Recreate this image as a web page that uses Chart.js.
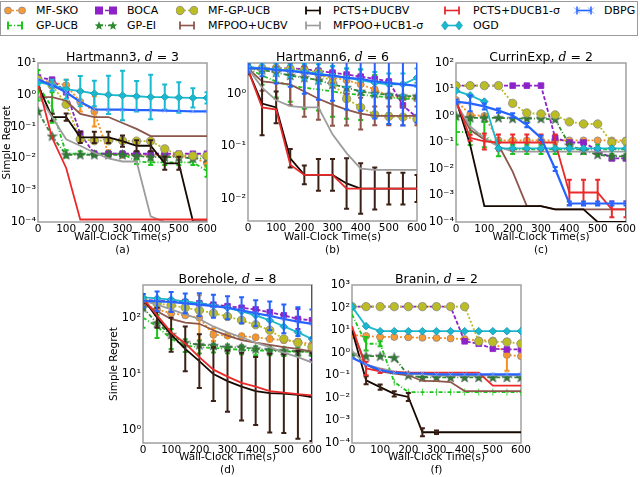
<!DOCTYPE html>
<html>
<head>
<meta charset="utf-8">
<script src="https://cdn.jsdelivr.net/npm/chart.js@4.4.0/dist/chart.umd.min.js"></script>
<style>
  body { margin: 0; width: 640px; height: 477px; background: #fff; position: relative; overflow: hidden; font-family: "DejaVu Sans", sans-serif; }
  canvas { position: absolute; }
  .ttl { position: absolute; font-size: 12.5px; white-space: nowrap; transform: translate(-50%, -50%); color: #000; }
  .ttl i { font-family: "DejaVu Serif", serif; }
  #legend { position: absolute; left: 0; top: 1px; width: 638px; height: 35px; border: 1.5px solid #9a9a9a; box-sizing: border-box; }
  .li { position: absolute; font-size: 11px; line-height: 13px; white-space: nowrap; }
  .li svg { position: absolute; top: 0; }
</style>
</head>
<body>
<div id="legend"></div>
<canvas id="ca"></canvas>
<canvas id="cb"></canvas>
<canvas id="cc"></canvas>
<canvas id="cd"></canvas>
<canvas id="cf"></canvas>
<script>
const TIMES = [0, 50, 100, 150, 200, 250, 300, 350, 400, 450, 500, 550, 600];
const X_TICKS = [0, 100, 200, 300, 400, 500, 600];
const METHODS = ['MF-SKO', 'GP-UCB', 'BOCA', 'GP-EI', 'MF-GP-UCB', 'MFPOO+UCBV', 'PCTS+DUCBV',
  'MFPOO+UCB1-σ', 'PCTS+DUCB1-σ', 'OGD', 'DBPG'];

// Hartmann3, d = 3
const h3MfSko = [3, 2.5, 2, 0.6, 0.3, 0.014, 0.013, 0.013, 0.013, 0.012, 0.012, 0.011, 0.007];
const h3GpUcb = [2, 0.4, 0.014, 0.014, 0.014, 0.014, 0.014, 0.008, 0.0075, 0.0075, 0.0075, 0.0075, 0.004];
const h3Boca = [3.5, 3, 1.2, 0.06, 0.014, 0.014, 0.014, 0.014, 0.014, 0.014, 0.014, 0.014, 0.014];
const h3GpEi = [0.3, 0.05, 0.013, 0.013, 0.013, 0.013, 0.013, 0.012, 0.011, 0.011, 0.011, 0.01, 0.01];
const h3MfGpUcb = [3, 2, 0.5, 0.04, 0.036, 0.036, 0.036, 0.035, 0.035, 0.02, 0.013, 0.012, 0.012];
const h3PooUcbv = [0.85, 0.85, 0.65, 0.25, 0.2, 0.2, 0.13, 0.085, 0.05, 0.05, 0.05, 0.05, 0.05];
const h3PctsUcbv = [2, 0.2, 0.2, 0.046, 0.046, 0.046, 0.035, 0.025, 0.025, 0.007, 0.007, 0.000105, 0.000105];
const h3PooUcb1 = [1, 0.2, 0.04, 0.025, 0.015, 0.01, 0.008, 0.008, 0.00015, 0.0001, 0.0001, 0.0001, 0.0001];
const h3PctsUcb1 = [2.2, 0.045, 0.005, 0.00012, 0.00012, 0.00012, 0.00012, 0.00012, 0.00012, 0.00012, 0.00012, 0.00012, 0.00012];
const h3Ogd = [2.5, 2, 1.5, 1.3, 1.1, 1.0, 0.95, 0.9, 0.85, 0.85, 0.82, 0.8, 0.8];
const h3Dbpg = [3, 2, 1.2, 0.6, 0.35, 0.34, 0.34, 0.33, 0.33, 0.32, 0.31, 0.3, 0.3];
const h3MfSkoErr = [1.2, 1.3, 1.5, 2, 3, 1.3, 1.2, 1.2, 1.2, 1.2, 1.2, 1.2, 1.3];
const h3GpUcbErr = [3, 3, 1.3, 1.2, 1.2, 1.2, 1.2, 1.2, 1.2, 1.2, 1.2, 1.2, 1.5];
const h3PctsUcbvErr = [1.2, 1.3, 1.3, 1.5, 1.5, 1.5, 1.5, 1.5, 1.5, 1.6, 1.6, 1, 1];
const h3OgdErr = [1.2, 1.5, 2, 3, 2.5, 4, 6, 3, 5, 2.5, 3, 2, 1.5];

// Hartmann6, d = 6
const h6MfSko = [3, 2.9, 2.8, 2.7, 2.5, 2.3, 2.0, 1.8, 1.5, 1.2, 0.9, 0.85, 0.8];
const h6GpUcb = [3, 2.2, 1.7, 1.4, 1.3, 1.2, 1.1, 1.0, 0.95, 0.9, 0.85, 0.8, 0.8];
const h6Boca = [3, 3, 3, 3, 2.9, 2.7, 2.5, 2.3, 2.1, 1.9, 1.7, 0.6, 0.35];
const h6GpEi = [3, 2.8, 2.5, 2.2, 2.0, 1.8, 1.5, 1.3, 1.1, 1.0, 0.95, 0.9, 0.9];
const h6MfGpUcb = [3, 3, 3, 2.9, 2.8, 2.5, 1.6, 0.8, 0.55, 0.4, 0.37, 0.36, 0.33];
const h6PooUcbv = [3, 1.7, 1.6, 1.5, 1.1, 0.8, 0.62, 0.5, 0.42, 0.38, 0.38, 0.38, 0.38];
const h6PctsUcbv = [2.8, 0.65, 0.55, 0.06, 0.029, 0.029, 0.029, 0.02, 0.016, 0.016, 0.016, 0.016, 0.016];
const h6PooUcb1 = [3, 1.3, 0.75, 0.58, 0.55, 0.55, 0.17, 0.075, 0.038, 0.036, 0.036, 0.036, 0.036];
const h6PctsUcb1 = [2.8, 0.55, 0.5, 0.045, 0.029, 0.029, 0.029, 0.016, 0.016, 0.016, 0.016, 0.016, 0.016];
const h6Ogd = [3.2, 3, 2.9, 2.7, 2.6, 2.4, 2.2, 2.0, 1.8, 1.6, 1.5, 1.5, 2.0];
const h6Dbpg = [3, 3, 2.8, 2.7, 2.5, 2.3, 2.2, 2.0, 1.9, 1.7, 1.6, 1.5, 1.4];
const h6GpUcbErr = [1.2, 1.5, 2, 2, 2.5, 2.5, 3, 3, 3, 2.5, 2, 2, 2];
const h6PooUcbvErr = [1.2, 1.5, 2, 2.5, 3, 2.5, 2.5, 2, 2, 1.5, 1.5, 1.5, 1.5];
const h6PctsUcbvErr = [1.2, 4, 2, 1.5, 1.5, 2, 2, 3, 3, 2.5, 2, 2, 1.8];
const h6OgdErr = [1.1, 1.2, 1.3, 1.3, 1.4, 1.5, 1.5, 1.5, 1.6, 1.6, 1.6, 1.6, 1.5];
const h6DbpgErr = [1.2, 1.4, 1.8, 2, 2.5, 3, 3, 4, 4, 5, 6, 6, 5];

// CurrinExp, d = 2
const ceMfSko = [4, 1.1, 1.0, 0.12, 0.12, 0.12, 0.12, 0.12, 0.12, 0.12, 0.12, 0.12, 0.12];
const ceGpUcb = [0.25, 0.24, 0.2, 0.06, 0.055, 0.055, 0.055, 0.055, 0.055, 0.055, 0.055, 0.055, 0.055];
const ceBoca = [14, 14, 14, 14, 14, 14, 14, 0.15, 0.1, 0.1, 0.05, 0.025, 0.025];
const ceGpEi = [1, 0.85, 0.85, 0.85, 0.8, 0.8, 0.8, 0.75, 0.08, 0.05, 0.035, 0.03, 0.03];
const ceMfGpUcb = [14, 14, 14, 14, 3, 1.3, 1.2, 1.1, 0.6, 0.5, 0.5, 0.1, 0.11];
const cePooUcbv = [3, 0.3, 0.13, 0.08, 0.008, 0.0004, 0.0004, 0.0003, 0.0003, 0.0003, 0.0003, 0.0003, 0.0003];
const cePctsUcbv = [4, 0.08, 0.0004, 0.0004, 0.0004, 0.0004, 0.0004, 0.0003, 0.0003, 0.0003, 0.0001, 0.0001, 0.0001];
const cePooUcb1 = [3, 0.4, 0.15, 0.07, 0.045, 0.045, 0.045, 0.045, 0.045, 0.045, 0.045, 0.045, 0.045];
const cePctsUcb1 = [4, 0.15, 0.11, 0.1, 0.1, 0.1, 0.1, 0.1, 0.0013, 0.0013, 0.0013, 0.0003, 0.0003];
const ceOgd = [9, 6, 3.5, 0.06, 0.06, 0.06, 0.06, 0.06, 0.06, 0.06, 0.06, 0.06, 0.06];
const ceDbpg = [3.5, 3, 2.3, 1.6, 1.05, 0.45, 0.15, 0.01, 0.0005, 0.0005, 0.0005, 0.0005, 0.0005];
const ceGpUcbErr = [3, 3, 3, 2, 1.5, 1.5, 1.5, 1.5, 1.5, 1.5, 1.5, 1.5, 1.5];
const cePctsUcb1Err = [1, 1.3, 2, 2, 2, 2, 2, 2, 3, 3, 3, 2, 2];
const ceDbpgErr = [1.2, 2, 1.3, 1.2, 1.2, 1.2, 1.2, 1.2, 1.2, 1.2, 1.2, 1.2, 1.2];

// Borehole, d = 8
const bhMfSko = [180, 140, 120, 110, 100, 50, 48, 47, 45, 42, 40, 38, 33];
const bhGpUcb = [100, 70, 42, 32, 30, 29, 28, 27, 26, 26, 25, 25, 25];
const bhBoca = [210, 200, 195, 190, 180, 170, 160, 150, 140, 125, 110, 95, 90];
const bhGpEi = [150, 80, 50, 36, 33, 32, 30, 30, 28, 27, 26, 25, 25];
const bhMfGpUcb = [200, 180, 165, 150, 135, 120, 105, 90, 75, 60, 42, 36, 30];
const bhPooUcbv = [180, 130, 95, 82, 78, 60, 48, 40, 36, 33, 30, 28, 25];
const bhPctsUcbv = [220, 100, 50, 28, 17, 10, 7.5, 6, 5, 4.6, 4.5, 4.3, 3.9];
const bhPooUcb1 = [200, 170, 140, 115, 95, 70, 55, 45, 36, 30, 24, 20, 16];
const bhPctsUcb1 = [220, 110, 55, 35, 20, 12, 9, 7, 6, 5, 4.7, 4.4, 4.2];
const bhOgd = [230, 220, 210, 195, 180, 165, 150, 130, 110, 90, 70, 55, 42];
const bhDbpg = [200, 195, 190, 180, 170, 160, 150, 135, 120, 108, 95, 85, 78];
const bhMfSkoErr = [1, 1, 1, 1, 2.5, 1.3, 1.1, 1.1, 1.1, 1.1, 1.1, 1.1, 1.1];
const bhGpUcbErr = [1.5, 1.6, 1.5, 1.3, 1.3, 1.2, 1.2, 1.2, 1.2, 1.2, 1.2, 1.2, 1.2];
const bhBocaErr = [1, 1, 1, 1, 1, 1, 1, 1, 1, 1, 1, 1.5, 5];
const bhPctsUcbvErr = [1.2, 1.5, 2, 2.5, 3, 3, 3.5, 4, 4, 5, 5, 6, 6];
const bhDbpgErr = [1.3, 1.5, 1.5, 1.5, 1.6, 1.6, 1.6, 1.7, 1.7, 1.8, 1.8, 1.8, 1.8];

// Branin, d = 2
const brMfSko = [6, 5.5, 5, 5, 4.8, 4.6, 4.5, 4.3, 4, 3.5, 3.5, 0.8, 0.7];
const brGpUcb = [50, 2.5, 2.5, 0.05, 0.018, 0.018, 0.018, 0.018, 0.018, 0.018, 0.018, 0.018, 0.018];
const brBoca = [110, 110, 110, 110, 110, 110, 110, 110, 3.2, 2.5, 1.5, 1.4, 1.4];
const brGpEi = [0.8, 0.7, 0.7, 0.6, 0.1, 0.08, 0.08, 0.08, 0.08, 0.08, 0.08, 0.08, 0.08];
const brMfGpUcb = [110, 110, 110, 110, 110, 110, 110, 110, 110, 3.2, 3, 3, 2.5];
const brPooUcbv = [10, 0.3, 0.15, 0.12, 0.1, 0.056, 0.055, 0.05, 0.02, 0.02, 0.02, 0.02, 0.02];
const brPctsUcbv = [10, 0.06, 0.03, 0.015, 0.011, 0.0003, 0.0003, 0.0003, 0.0003, 0.0003, 0.0003, 0.0003, 0.0003];
const brPooUcb1 = [1.2, 0.3, 0.2, 0.15, 0.12, 0.11, 0.1, 0.1, 0.1, 0.1, 0.1, 0.1, 0.1];
const brPctsUcb1 = [15, 0.2, 0.15, 0.14, 0.13, 0.13, 0.13, 0.13, 0.13, 0.13, 0.035, 0.035, 0.035];
const brOgd = [110, 15, 9, 9, 9, 9, 9, 9, 9, 9, 9, 9, 9];
const brDbpg = [0.6, 0.3, 0.17, 0.13, 0.12, 0.12, 0.11, 0.11, 0.11, 0.11, 0.11, 0.11, 0.11];
const brMfSkoErr = [1, 1, 1, 1, 1, 1, 1, 1, 1, 1, 1, 5, 1];
const brGpUcbErr = [1, 2, 1.3, 1, 1, 1, 1, 1, 1, 1, 1, 1, 1];
const brPctsUcbvErr = [1, 1.5, 1.3, 1.3, 1.5, 1.5, 1.2, 1, 1, 1, 1, 1, 1];
const brPctsUcb1Err = [1, 2, 1.2, 1, 1, 1, 1, 1, 1, 1, 1, 1, 1];

// star marker for GP-EI
const starImg = document.createElement('canvas');
starImg.width = 11; starImg.height = 11;
(() => {
  const c = starImg.getContext('2d');
  c.beginPath();
  for (let i = 0; i < 10; i++) {
    const r = i % 2 ? 2.2 : 5.2;
    const a = -Math.PI / 2 + i * Math.PI / 5;
    c.lineTo(5.5 + r * Math.cos(a), 5.8 + r * Math.sin(a));
  }
  c.closePath();
  c.fillStyle = '#2e7d2e'; c.fill();
  c.strokeStyle = '#556'; c.lineWidth = 0.6; c.stroke();
})();

const STYLES = {
  'MF-SKO': { color: '#f7901e', dash: [2, 2], point: 'circle', r: 3.5, fill: '#f79a38', edge: '#888' },
  'GP-UCB': { color: '#1cc41c', dash: [4, 2, 1, 2], point: 'line', r: 3.5, rot: 90, fill: '#1cc41c', edge: '#1cc41c' },
  'BOCA': { color: '#8c22c8', dash: [4, 2], point: 'rect', r: 4, fill: '#8c22c8', edge: '#8c22c8' },
  'GP-EI': { color: '#2e8b2e', dash: [4, 2, 1, 2], point: starImg, r: 5 },
  'MF-GP-UCB': { color: '#bcbd22', dash: [2, 2], point: 'circle', r: 4.2, fill: '#bcbd22', edge: '#888' },
  'MFPOO+UCBV': { color: '#8c564b', dash: [], point: false },
  'PCTS+DUCBV': { color: '#150800', dash: [], point: false, errColor: '#3b2016' },
  'MFPOO+UCB1-σ': { color: '#9c9c9c', dash: [], point: false },
  'PCTS+DUCB1-σ': { color: '#ea2a2a', dash: [], point: false },
  'OGD': { color: '#1ab9cf', dash: [], point: 'rectRot', r: 3.8, fill: '#1ab9cf', edge: '#1590a8' },
  'DBPG': { color: '#2563ff', dash: [], point: 'crossRot', r: 3, fill: '#7fa6ff', edge: '#7fa6ff', width: 2.2 }
};

const PANELS = [
  { canvas: 'ca', name: 'Hartmann3', d: 3, cap: '(a)', ymin: 1e-4, ymax: 1e1, yTitle: true,
    series: [h3MfSko, h3GpUcb, h3Boca, h3GpEi, h3MfGpUcb, h3PooUcbv, h3PctsUcbv, h3PooUcb1, h3PctsUcb1, h3Ogd, h3Dbpg],
    errs: { 'MF-SKO': h3MfSkoErr, 'GP-UCB': h3GpUcbErr, 'PCTS+DUCBV': h3PctsUcbvErr, 'OGD': h3OgdErr } },
  { canvas: 'cb', name: 'Hartmann6', d: 6, cap: '(b)', ymin: Math.pow(10, -2.41), ymax: Math.pow(10, 0.58), yTitle: false,
    series: [h6MfSko, h6GpUcb, h6Boca, h6GpEi, h6MfGpUcb, h6PooUcbv, h6PctsUcbv, h6PooUcb1, h6PctsUcb1, h6Ogd, h6Dbpg],
    errs: { 'GP-UCB': h6GpUcbErr, 'MFPOO+UCBV': h6PooUcbvErr, 'PCTS+DUCBV': h6PctsUcbvErr, 'OGD': h6OgdErr, 'DBPG': h6DbpgErr } },
  { canvas: 'cc', name: 'CurrinExp', d: 2, cap: '(c)', ymin: 1e-4, ymax: 1e2, yTitle: false,
    series: [ceMfSko, ceGpUcb, ceBoca, ceGpEi, ceMfGpUcb, cePooUcbv, cePctsUcbv, cePooUcb1, cePctsUcb1, ceOgd, ceDbpg],
    errs: { 'GP-UCB': ceGpUcbErr, 'PCTS+DUCB1-σ': cePctsUcb1Err, 'DBPG': ceDbpgErr } },
  { canvas: 'cd', name: 'Borehole', d: 8, cap: '(d)', ymin: Math.pow(10, -0.21), ymax: Math.pow(10, 2.58), yTitle: true,
    series: [bhMfSko, bhGpUcb, bhBoca, bhGpEi, bhMfGpUcb, bhPooUcbv, bhPctsUcbv, bhPooUcb1, bhPctsUcb1, bhOgd, bhDbpg],
    errs: { 'MF-SKO': bhMfSkoErr, 'GP-UCB': bhGpUcbErr, 'BOCA': bhBocaErr, 'PCTS+DUCBV': bhPctsUcbvErr, 'DBPG': bhDbpgErr } },
  { canvas: 'cf', name: 'Branin', d: 2, cap: '(f)', ymin: 1e-4, ymax: 1e3, yTitle: false,
    series: [brMfSko, brGpUcb, brBoca, brGpEi, brMfGpUcb, brPooUcbv, brPctsUcbv, brPooUcb1, brPctsUcb1, brOgd, brDbpg],
    errs: { 'MF-SKO': brMfSkoErr, 'GP-UCB': brGpUcbErr, 'PCTS+DUCBV': brPctsUcbvErr, 'PCTS+DUCB1-σ': brPctsUcb1Err } }
];

// where each panel sits on the page (plot area = left+yw .. , top+10 ..)
const LAYOUT = {
  ca: { left: 0, top: 53, yw: 38, pw: 169, ph: 159, xh: 35, tpad: 1 },
  cb: { left: 218, top: 53, yw: 30, pw: 169, ph: 158, xh: 36, tpad: 0 },
  cc: { left: 426, top: 53, yw: 30, pw: 170, ph: 159, xh: 35, tpad: 0 },
  cd: { left: 103, top: 275, yw: 40, pw: 169, ph: 158, xh: 34, tpad: 5 },
  cf: { left: 322, top: 275, yw: 30, pw: 169, ph: 158, xh: 34, tpad: 0 }
};

const SUP = { '-': '⁻', '0': '⁰', '1': '¹', '2': '²', '3': '³', '4': '⁴', '5': '⁵' };
const expLabel = v => '10' + String(Math.round(Math.log10(v))).split('').map(c => SUP[c]).join('');

const frame = {
  id: 'frame',
  beforeDatasetsDraw(chart) {
    const a = chart.chartArea, ctx = chart.ctx;
    ctx.save();
    ctx.strokeStyle = '#a0a0a0';
    ctx.lineWidth = 1.5;
    ctx.strokeRect(a.left, a.top, a.right - a.left, a.bottom - a.top);
    ctx.restore();
  }
};

const errorBars = {
  id: 'errorBars',
  afterDatasetDraw(chart, args) {
    const ds = chart.data.datasets[args.index];
    if (!ds.err) return;
    const { ctx, chartArea: a, scales: { x, y } } = chart;
    ctx.save();
    ctx.beginPath();
    ctx.rect(a.left, a.top, a.right - a.left, a.bottom - a.top);
    ctx.clip();
    ctx.strokeStyle = ds.errColor;
    ctx.lineWidth = 2;
    ds.data.forEach((p, i) => {
      const f = ds.err[i];
      if (!f || f <= 1) return;
      const px = x.getPixelForValue(p.x);
      const y1 = y.getPixelForValue(p.y / f), y2 = y.getPixelForValue(p.y * f);
      ctx.beginPath();
      ctx.moveTo(px, y1); ctx.lineTo(px, y2);
      ctx.moveTo(px - 2.5, y1); ctx.lineTo(px + 2.5, y1);
      ctx.moveTo(px - 2.5, y2); ctx.lineTo(px + 2.5, y2);
      ctx.stroke();
    });
    ctx.restore();
  }
};

PANELS.forEach(p => {
  const L = LAYOUT[p.canvas];
  const cv = document.getElementById(p.canvas);
  cv.width = L.yw + L.pw + 14;
  cv.height = 10 + L.ph + L.xh;
  cv.style.left = L.left + 'px';
  cv.style.top = L.top + 'px';

  const datasets = METHODS.map((m, i) => {
    const s = STYLES[m];
    return {
      label: m,
      data: TIMES.map((t, k) => ({ x: t, y: p.series[i][k] })),
      borderColor: s.color,
      borderWidth: s.width || 1.8,
      borderDash: s.dash,
      pointStyle: s.point || 'circle',
      pointRadius: s.point ? s.r : 0,
      pointRotation: s.rot || 0,
      pointBackgroundColor: s.fill,
      pointBorderColor: s.edge,
      pointBorderWidth: 0.8,
      tension: 0,
      order: METHODS.length - i,
      err: p.errs[m],
      errColor: s.errColor || s.color
    };
  });

  new Chart(cv, {
    type: 'line',
    data: { datasets },
    plugins: [frame, errorBars],
    options: {
      responsive: false,
      animation: false,
      devicePixelRatio: 1,
      layout: { padding: { top: 10, right: 14, left: 0, bottom: 0 } },
      plugins: { legend: { display: false }, tooltip: { enabled: false } },
      scales: {
        x: {
          type: 'linear', min: 0, max: 600,
          afterBuildTicks: ax => { ax.ticks = X_TICKS.map(v => ({ value: v })); },
          afterFit: ax => { ax.height = L.xh; },
          grid: { display: false, drawTicks: false },
          border: { display: false },
          ticks: { padding: 1, color: '#000', font: { family: 'DejaVu Sans', size: 10.5 }, maxRotation: 0 },
          title: { display: true, text: ['Wall-Clock Time(s)', p.cap], color: '#000', padding: 0,
                   font: { family: 'DejaVu Sans', size: 10.5, lineHeight: 1.25 } }
        },
        y: {
          type: 'logarithmic', min: p.ymin, max: p.ymax,
          afterBuildTicks: ax => {
            const t = [];
            for (let e = Math.ceil(Math.log10(p.ymin) - 1e-9); e <= Math.floor(Math.log10(p.ymax) + 1e-9); e++) t.push({ value: Math.pow(10, e) });
            ax.ticks = t;
          },
          afterFit: ax => { ax.width = L.yw; },
          grid: { display: false, drawTicks: false },
          border: { display: false },
          ticks: { padding: 2, color: '#000', font: { family: 'DejaVu Sans', size: 11.5 }, callback: v => expLabel(v) },
          title: { display: p.yTitle, text: 'Simple Regret', color: '#000', padding: { top: L.tpad },
                   font: { family: 'DejaVu Sans', size: 10.5 } }
        }
      }
    }
  });

  const t = document.createElement('div');
  t.className = 'ttl';
  t.innerHTML = p.name + ', <i>d</i> = ' + p.d;
  t.style.left = (L.left + L.yw + L.pw / 2) + 'px';
  t.style.top = (L.top + 3) + 'px';
  document.body.appendChild(t);
});

// legend: two rows, six columns, column-major like the figure
const LEG_COLS = [[3, 35], [94, 126], [175, 207], [301, 332], [440, 472], [572, 603]];
function markerSvg(s, x, y) {
  if (s.point === 'circle') return `<circle cx="${x}" cy="${y}" r="${s.r}" fill="${s.fill}" stroke="${s.edge}" stroke-width="0.8"/>`;
  if (s.point === 'rect') return `<rect x="${x - 4}" y="${y - 4}" width="8" height="8" fill="${s.fill}"/>`;
  if (s.point === 'rectRot') return `<polygon points="${x},${y - 4.5} ${x + 3.5},${y} ${x},${y + 4.5} ${x - 3.5},${y}" fill="${s.fill}" stroke="${s.edge}" stroke-width="0.6"/>`;
  if (s.point === 'line') return `<line x1="${x}" y1="${y - 4}" x2="${x}" y2="${y + 4}" stroke="${s.color}" stroke-width="2"/>`;
  if (s.point === 'crossRot') return `<path d="M${x - 3} ${y - 3}L${x + 3} ${y + 3}M${x + 3} ${y - 3}L${x - 3} ${y + 3}" stroke="${s.edge}" stroke-width="1"/><line x1="${x}" y1="${y - 4}" x2="${x}" y2="${y + 4}" stroke="${s.color}" stroke-width="1.5"/>`;
  if (s.point === starImg) {
    let pts = [];
    for (let i = 0; i < 10; i++) {
      const r = i % 2 ? 2 : 4.8, a = -Math.PI / 2 + i * Math.PI / 5;
      pts.push((x + r * Math.cos(a)).toFixed(1) + ',' + (y + 0.4 + r * Math.sin(a)).toFixed(1));
    }
    return `<polygon points="${pts.join(' ')}" fill="${s.color}"/>`;
  }
  return `<line x1="${x}" y1="${y - 4}" x2="${x}" y2="${y + 4}" stroke="${s.color}" stroke-width="1.8"/>`;
}
const legend = document.getElementById('legend');
METHODS.forEach((m, i) => {
  const s = STYLES[m];
  const [ix, tx] = LEG_COLS[Math.floor(i / 2)];
  const y = i % 2 ? 17 : 2;
  const w = 22, cy = 6.5;
  let svg = `<svg width="${w}" height="13" style="left:${ix - tx}px">`;
  svg += `<line x1="4" y1="${cy}" x2="${w - 4}" y2="${cy}" stroke="${s.color}" stroke-width="1.6" ${s.dash.length ? `stroke-dasharray="${s.dash.join(',')}"` : ''}/>`;
  svg += markerSvg(s, 4, cy) + markerSvg(s, w - 4, cy);
  svg += '</svg>';
  const d = document.createElement('div');
  d.className = 'li';
  d.style.left = tx + 'px';
  d.style.top = y + 'px';
  d.innerHTML = svg + m;
  legend.appendChild(d);
});
</script>
</body>
</html>
